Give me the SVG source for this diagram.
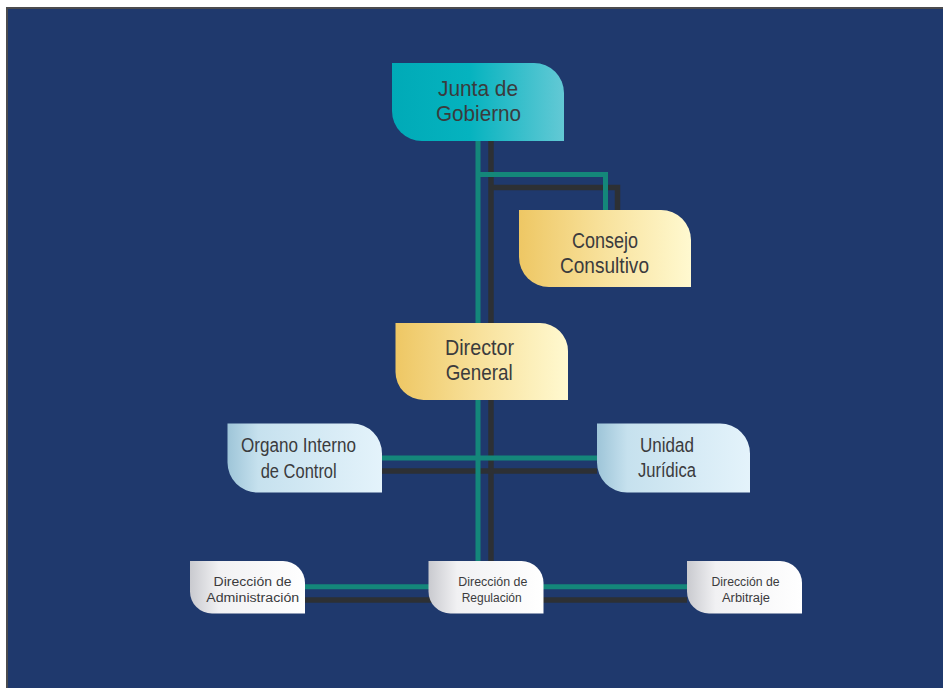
<svg xmlns="http://www.w3.org/2000/svg" width="943" height="688" viewBox="0 0 943 688">
  <defs>
    <linearGradient id="gTeal" x1="0" y1="0" x2="1" y2="0">
      <stop offset="0" stop-color="#00aab7"/>
      <stop offset="0.45" stop-color="#05b3bf"/>
      <stop offset="1" stop-color="#63c9d5"/>
    </linearGradient>
    <linearGradient id="gGold" x1="0" y1="0" x2="1" y2="0">
      <stop offset="0" stop-color="#eec764"/>
      <stop offset="0.5" stop-color="#f8e29d"/>
      <stop offset="1" stop-color="#fff9d0"/>
    </linearGradient>
    <linearGradient id="gSky" x1="0" y1="0" x2="1" y2="0">
      <stop offset="0" stop-color="#9ec5d8"/>
      <stop offset="0.2" stop-color="#c6e1ee"/>
      <stop offset="1" stop-color="#e4f3fb"/>
    </linearGradient>
    <linearGradient id="gWhite" x1="0" y1="0" x2="1" y2="0">
      <stop offset="0" stop-color="#c9cacf"/>
      <stop offset="0.25" stop-color="#f1f1f3"/>
      <stop offset="1" stop-color="#ffffff"/>
    </linearGradient>
  </defs>
  <style>
    .lbl { font-family: "Liberation Sans", Arial, sans-serif; fill: #3b3b3d; text-anchor: middle; }
    .big { font-size: 22px; }
    .mid { font-size: 20px; }
    .small { font-size: 12.5px; }
    .teal { stroke: #14877a; stroke-width: 5; fill: none; }
    .dark { stroke: #2d3034; stroke-width: 5.5; fill: none; }
  </style>

  <!-- page background and frame -->
  <rect x="0" y="0" width="943" height="688" fill="#ffffff"/>
  <rect x="7" y="8" width="936" height="680" fill="#1f396d"/>
  <path d="M7 688 V8 H943" fill="none" stroke="#4b4b4e" stroke-width="2"/>

  <!-- connectors -->
  <g id="connectors">
    <!-- dark lines (drawn beneath) -->
    <path class="dark" d="M491 141 V561"/>
    <path class="dark" d="M491 187.5 H617.5 V210"/>
    <path class="dark" d="M381 471 H597"/>
    <path class="dark" d="M305 600 H687"/>
    <!-- teal lines -->
    <path class="teal" d="M478 141 V561"/>
    <path class="teal" d="M478 174.5 H605.5 V210"/>
    <path class="teal" d="M381 458 H597"/>
    <path class="teal" d="M305 586.7 H687"/>
  </g>

  <g id="junta-de-gobierno">
    <path d="M392 63 H534 A30 30 0 0 1 564 93 V141 H422 A30 30 0 0 1 392 111 Z" fill="url(#gTeal)"/>
    <text class="lbl big" x="478" y="95.5" textLength="80" lengthAdjust="spacingAndGlyphs">Junta de</text>
    <text class="lbl big" x="478.5" y="120.5" textLength="85" lengthAdjust="spacingAndGlyphs">Gobierno</text>
  </g>

  <g id="consejo-consultivo">
    <path d="M519 210 H661 A30 30 0 0 1 691 240 V287 H549 A30 30 0 0 1 519 257 Z" fill="url(#gGold)"/>
    <text class="lbl big" x="605" y="248" textLength="66" lengthAdjust="spacingAndGlyphs">Consejo</text>
    <text class="lbl big" x="604.5" y="273" textLength="89" lengthAdjust="spacingAndGlyphs">Consultivo</text>
  </g>

  <g id="director-general">
    <path d="M395.5 323 H540 A28 28 0 0 1 568 351 V400 H423.5 A28 28 0 0 1 395.5 372 Z" fill="url(#gGold)"/>
    <text class="lbl big" x="479.5" y="355" textLength="69" lengthAdjust="spacingAndGlyphs">Director</text>
    <text class="lbl big" x="479.2" y="380" textLength="67" lengthAdjust="spacingAndGlyphs">General</text>
  </g>

  <g id="organo-interno-de-control">
    <path d="M227.5 423.5 H352 A30 30 0 0 1 382 453.5 V492.5 H257.5 A30 30 0 0 1 227.5 462.5 Z" fill="url(#gSky)"/>
    <text class="lbl mid" x="298.5" y="451.7" textLength="115" lengthAdjust="spacingAndGlyphs">Organo Interno</text>
    <text class="lbl mid" x="298.7" y="478" textLength="76" lengthAdjust="spacingAndGlyphs">de Control</text>
  </g>

  <g id="unidad-juridica">
    <path d="M597 423.5 H720 A30 30 0 0 1 750 453.5 V492.5 H627 A30 30 0 0 1 597 462.5 Z" fill="url(#gSky)"/>
    <text class="lbl mid" x="667" y="451.7" textLength="54" lengthAdjust="spacingAndGlyphs">Unidad</text>
    <text class="lbl mid" x="667" y="477" textLength="58" lengthAdjust="spacingAndGlyphs">Jurídica</text>
  </g>

  <g id="direccion-de-administracion">
    <path d="M190 561 H283 A22 22 0 0 1 305 583 V613.5 H212 A22 22 0 0 1 190 591.5 Z" fill="url(#gWhite)"/>
    <text class="lbl small" x="252.5" y="586" textLength="78" lengthAdjust="spacingAndGlyphs">Dirección de</text>
    <text class="lbl small" x="252.7" y="601.7" textLength="93" lengthAdjust="spacingAndGlyphs">Administración</text>
  </g>

  <g id="direccion-de-regulacion">
    <path d="M428.5 561 H521.5 A22 22 0 0 1 543.5 583 V613.5 H450.5 A22 22 0 0 1 428.5 591.5 Z" fill="url(#gWhite)"/>
    <text class="lbl small" x="492.8" y="586" textLength="69" lengthAdjust="spacingAndGlyphs">Dirección de</text>
    <text class="lbl small" x="491.7" y="601.7" textLength="60" lengthAdjust="spacingAndGlyphs">Regulación</text>
  </g>

  <g id="direccion-de-arbitraje">
    <path d="M687 561 H780 A22 22 0 0 1 802 583 V613.5 H709 A22 22 0 0 1 687 591.5 Z" fill="url(#gWhite)"/>
    <text class="lbl small" x="745.5" y="586" textLength="68" lengthAdjust="spacingAndGlyphs">Dirección de</text>
    <text class="lbl small" x="746" y="601.7" textLength="48" lengthAdjust="spacingAndGlyphs">Arbitraje</text>
  </g>
</svg>
